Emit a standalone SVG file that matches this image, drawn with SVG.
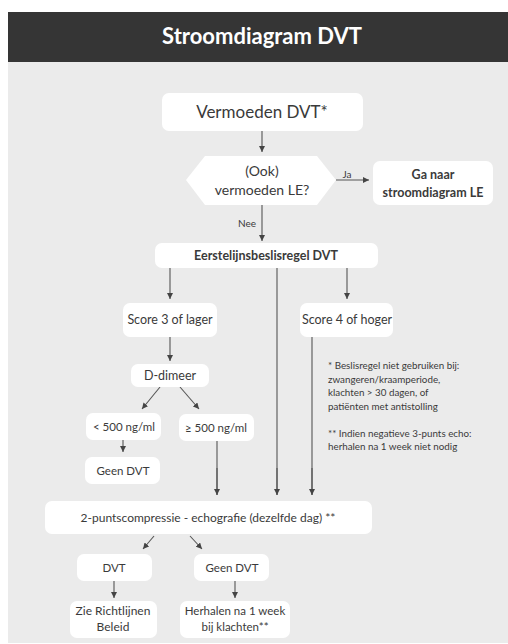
<svg xmlns="http://www.w3.org/2000/svg" width="508" height="644" viewBox="0 0 508 644">
<defs>
<marker id="ah" viewBox="0 0 10 10" refX="10" refY="5" markerWidth="6" markerHeight="6" markerUnits="userSpaceOnUse" orient="auto">
<path d="M0,0 L10,5 L0,10 z" fill="#444"/>
</marker>
<style>
.box{fill:#fff}
.t{font-family:Lato,"Liberation Sans",sans-serif;fill:#3a3a3a;text-anchor:middle}
.b{font-weight:bold}
.ln{stroke:#555;stroke-width:1.1;fill:none}
.ar{stroke:#555;stroke-width:1.1;fill:none;marker-end:url(#ah)}
.note{font-family:Lato,"Liberation Sans",sans-serif;fill:#3a3a3a;font-size:9.8px}
</style>
</defs>
<rect x="0" y="0" width="508" height="644" fill="#fff"/>
<rect x="8" y="62" width="500" height="581" fill="#ebebeb"/>
<rect x="8" y="12" width="500" height="50" fill="#353535"/>
<text class="t b" x="262" y="44" font-size="22" style="fill:#fff">Stroomdiagram DVT</text>

<g id="connectors">
<line class="ar" x1="262" y1="131" x2="262" y2="152"/>
<line class="ar" x1="336" y1="180" x2="369" y2="180"/>
<line class="ar" x1="262" y1="205" x2="262" y2="241"/>
<line class="ar" x1="170" y1="268" x2="170" y2="299"/>
<line class="ln" x1="277" y1="268" x2="277" y2="495"/>
<line class="ar" x1="277" y1="468" x2="277" y2="495"/>
<line class="ar" x1="347" y1="268" x2="347" y2="299"/>
<line class="ar" x1="170" y1="337" x2="170" y2="361"/>
<line class="ln" x1="312" y1="337" x2="312" y2="495"/>
<line class="ar" x1="312" y1="468" x2="312" y2="495"/>
<line class="ar" x1="160" y1="387" x2="142" y2="409"/>
<line class="ar" x1="180" y1="387" x2="199" y2="409"/>
<line class="ar" x1="123" y1="440" x2="123" y2="452"/>
<line class="ln" x1="217" y1="441" x2="217" y2="495"/>
<line class="ar" x1="217" y1="468" x2="217" y2="495"/>
<line class="ar" x1="154" y1="536" x2="143" y2="549"/>
<line class="ar" x1="190" y1="536" x2="202" y2="549"/>
<line class="ar" x1="114" y1="581" x2="114" y2="598"/>
<line class="ar" x1="235" y1="581" x2="235" y2="598"/>
<text class="t" x="347" y="178" font-size="10">Ja</text>
<text class="t" x="247" y="227" font-size="10">Nee</text>
</g>

<g id="vermoeden">
<rect class="box" x="162" y="93" width="201" height="38" rx="7"/>
<text class="t" x="262" y="118" font-size="17">Vermoeden DVT*</text>
</g>
<g id="ook">
<polygon class="box" points="186,180 205,156 317,156 336,180 317,205 205,205"/>
<text class="t" x="262" y="176" font-size="14">(Ook)</text>
<text class="t" x="262" y="195" font-size="14">vermoeden LE?</text>
</g>
<g id="ganaar">
<rect class="box" x="373" y="161" width="120" height="44" rx="7"/>
<text class="t b" x="433" y="179" font-size="12.5">Ga naar</text>
<text class="t b" x="433" y="197" font-size="12.5">stroomdiagram LE</text>
</g>
<g id="eerstelijns">
<rect class="box" x="155" y="243" width="223" height="25" rx="7"/>
<text class="t b" x="266" y="260" font-size="12.5">Eerstelijnsbeslisregel DVT</text>
</g>
<g id="score3">
<rect class="box" x="123" y="303" width="94" height="34" rx="7"/>
<text class="t" x="170" y="324" font-size="12.5">Score 3 of lager</text>
</g>
<g id="score4">
<rect class="box" x="300" y="303" width="93" height="34" rx="7"/>
<text class="t" x="347" y="324" font-size="12.5">Score 4 of hoger</text>
</g>
<g id="ddimeer">
<rect class="box" x="131" y="364" width="78" height="23" rx="7"/>
<text class="t" x="170" y="380" font-size="12.5">D-dimeer</text>
</g>
<g id="lt500">
<rect class="box" x="86" y="413" width="75" height="27" rx="7"/>
<text class="t" x="124" y="431" font-size="11.5">&lt; 500 ng/ml</text>
</g>
<g id="ge500">
<rect class="box" x="179" y="414" width="75" height="27" rx="7"/>
<text class="t" x="216" y="432" font-size="11.5">≥ 500 ng/ml</text>
</g>
<g id="geendvt1">
<rect class="box" x="85" y="457" width="75" height="27" rx="7"/>
<text class="t" x="123" y="475" font-size="11.5">Geen DVT</text>
</g>
<g id="notes">
<text class="note" x="328" y="369">* Beslisregel niet gebruiken bij:</text>
<text class="note" x="328" y="383">zwangeren/kraamperiode,</text>
<text class="note" x="328" y="396">klachten &gt; 30 dagen, of</text>
<text class="note" x="328" y="410">patiënten met antistolling</text>
<text class="note" x="328" y="437">** Indien negatieve  3-punts echo:</text>
<text class="note" x="328" y="450">herhalen na 1 week niet nodig</text>
</g>
<g id="echo">
<rect class="box" x="45" y="501" width="327" height="33" rx="7"/>
<text class="t" x="208" y="522" font-size="12">2-puntscompressie - echografie (dezelfde dag) **</text>
</g>
<g id="dvt">
<rect class="box" x="77" y="554" width="75" height="27" rx="7"/>
<text class="t" x="114" y="572" font-size="11.5">DVT</text>
</g>
<g id="geendvt2">
<rect class="box" x="194" y="554" width="75" height="27" rx="7"/>
<text class="t" x="232" y="572" font-size="11.5">Geen DVT</text>
</g>
<g id="richtlijnen">
<rect class="box" x="70" y="601" width="87" height="37" rx="7"/>
<text class="t" x="113" y="615" font-size="12">Zie Richtlijnen</text>
<text class="t" x="113" y="631" font-size="12">Beleid</text>
</g>
<g id="herhalen">
<rect class="box" x="180" y="601" width="110" height="37" rx="7"/>
<text class="t" x="235" y="615" font-size="11.5">Herhalen na 1 week</text>
<text class="t" x="235" y="631" font-size="11.5">bij klachten**</text>
</g>
</svg>
